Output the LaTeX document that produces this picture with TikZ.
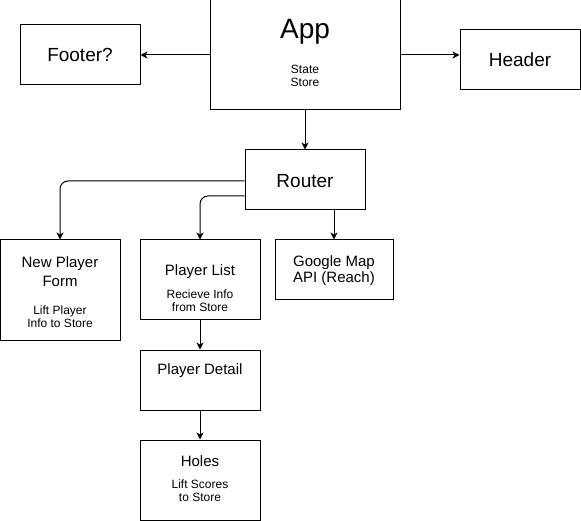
\documentclass[tikz,border=0pt]{standalone}
\usepackage{fontspec}
\setmainfont{Liberation Sans}
\usetikzlibrary{arrows.meta}
\begin{document}
\begin{tikzpicture}[
		x={(1pt,0pt)},
		y={(0pt,-1pt)},
		box/.style={draw=black,line width=1pt,fill=white,inner sep=0pt},
		conn/.style={-{Stealth[length=7pt,width=7pt,inset=2pt]},line width=1pt,rounded corners=8pt},
		huge/.style={font=\fontsize{28}{32}\selectfont},
		big/.style={font=\fontsize{19}{23}\selectfont},
		mid/.style={font=\fontsize{15}{18}\selectfont,align=center},
		small/.style={font=\fontsize{12}{13}\selectfont,align=center},
	]
		\useasboundingbox (0,0) rectangle (581,521);
		
		\foreach \n/\x/\y/\w/\h in {footer/80/55/120/60, app/305/55/190/110, header/520/60/120/60,
			router/305/180/120/60, npf/60/290/120/100, plist/200/280/120/80,
			gmap/334/270/118/60, pdetail/200/380/120/60, holes/200/480/120/80}{
			\node[box,minimum width=\w,minimum height=\h] (\n) at (\x,\y) {};
		}
		
		\node[huge] (apptitle) at (305,32) {App};
		\node[small] (appnote) at (305,76) {State\\Store};
		\node[big] (footertext) at (80,55) {Footer?};
		\node[big] (headertext) at (520,60) {Header};
		\node[big] (routertext) at (305,181) {Router};
		\node[mid,font=\fontsize{15}{19}\selectfont] (npftitle) at (60,271.5) {New Player\\Form};
		\node[small] (npfnote) at (60,317) {Lift Player\\Info to Store};
		\node[mid] (pltitle) at (200,272) {Player List};
		\node[small] (plnote) at (200,300.5) {Recieve Info\\from Store};
		\node[mid,font=\fontsize{15}{16}\selectfont] (gmaptext) at (334,271) {Google Map\\API (Reach)};
		\node[mid] (pdtext) at (200,371) {Player Detail};
		\node[mid] (holestitle) at (200,461) {Holes};
		\node[small] (holesnote) at (200,490.5) {Lift Scores\\to Store};
		
		\draw[conn] (app.west) -- (footer.east |- app.west);
		\draw[conn] (app.east) -- (header.west |- app.east);
		\draw[conn] (app.south) -- (router.north);
		\draw[conn] ([yshift=-1pt]router.west) -| (npf.north);
		\draw[conn] ([yshift=-16pt]router.west) -| (plist.north);
		\draw[conn] (router.south -| gmap.north) -- (gmap.north);
		\draw[conn] (plist.south) -- (pdetail.north);
		\draw[conn] (pdetail.south) -- (holes.north);
	\end{tikzpicture}
\end{document}
